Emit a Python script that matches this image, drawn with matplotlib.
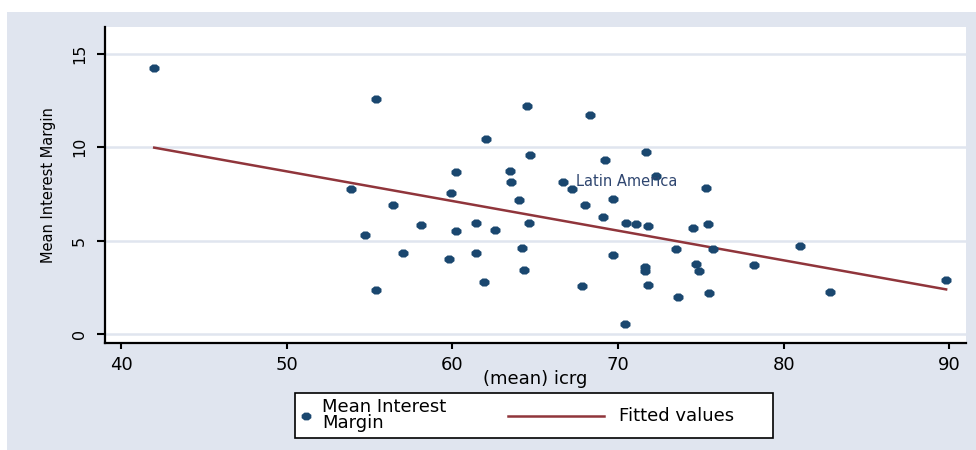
import numpy as np
import matplotlib
matplotlib.use('Agg')
import matplotlib.pyplot as plt
from matplotlib.patches import Rectangle
from matplotlib.lines import Line2D

# values
icrg = [42.0, 55.4, 64.5, 68.3, 62.0, 64.7, 71.7, 69.2, 60.2, 63.5,
        63.55, 66.7, 67.2, 72.3, 75.3, 53.9, 59.9, 64.0, 69.7, 56.4,
        68.0, 69.1, 58.1, 61.4, 64.6, 70.5, 71.1, 71.8, 74.5, 75.4,
        54.7, 60.2, 62.6, 57.0, 59.8, 61.4, 64.2, 69.7, 73.5, 75.7,
        81.0, 64.35, 71.6, 71.6, 74.7, 74.9, 78.2, 61.9, 55.4, 67.8,
        71.8, 73.6, 75.5, 82.8, 89.8, 70.4]
margin = [14.26, 12.59, 12.21, 11.75, 10.43, 9.60, 9.77, 9.32, 8.69, 8.75,
          8.12, 8.16, 7.78, 8.46, 7.80, 7.77, 7.53, 7.18, 7.23, 6.92,
          6.91, 6.25, 5.84, 5.94, 5.96, 5.96, 5.89, 5.80, 5.69, 5.89,
          5.32, 5.53, 5.57, 4.36, 4.02, 4.36, 4.60, 4.21, 4.54, 4.54,
          4.70, 3.43, 3.60, 3.35, 3.73, 3.39, 3.70, 2.80, 2.36, 2.59,
          2.62, 2.00, 2.18, 2.23, 2.89, 0.52]

fit_x = [42.0, 89.8]
fit_y = [9.98, 2.39]

label_text = 'Latin America'
label_x = 66.7
label_y = 8.16

x_ticks = [40, 50, 60, 70, 80, 90]
y_ticks = [0, 5, 10, 15]

navy = '#1a476f'
maroon = '#90353b'
bg = '#e0e5ef'

W, H = 976, 450
fig = plt.figure(figsize=(W / 100, H / 100), dpi=100)

def fx(px):
    return px / W

def fy(py):
    return 1 - py / H

# slightly wide octagon, like the stretched stata dots
t = np.linspace(0, 2 * np.pi, 9)[:-1] + np.pi / 8
dot = list(zip(1.25 * np.cos(t), np.sin(t)))

# stata style outer region
fig.patches.append(Rectangle((fx(7), 0), 1, fy(12), transform=fig.transFigure,
                             facecolor=bg, edgecolor='none', zorder=-10))

ax = fig.add_axes([fx(105), fy(343), fx(966) - fx(105), fy(27) - fy(343)])
ax.set_facecolor('white')

ax.scatter(icrg, margin, s=52, marker=dot, color=navy, zorder=3, linewidths=0)
ax.plot(fit_x, fit_y, color=maroon, lw=1.8, zorder=2)
ax.annotate(label_text, xy=(label_x, label_y), xytext=(9, 0), textcoords='offset points',
            va='center', ha='left', fontsize=10.5, color='#2f4670', zorder=4)

ax.set_xlim(39.03, 91.0)
ax.set_ylim(-0.48, 16.44)
ax.set_xticks(x_ticks)
ax.set_yticks(y_ticks)
ax.yaxis.grid(True, color=bg, lw=1.8)
ax.set_axisbelow(True)

for s in ['top', 'right']:
    ax.spines[s].set_visible(False)
for s in ['left', 'bottom']:
    ax.spines[s].set_linewidth(1.6)
    ax.spines[s].set_color('black')

ax.tick_params(axis='x', direction='out', length=4.5, width=1.5, pad=5, labelsize=13)
ax.tick_params(axis='y', direction='out', length=6, width=1.5, pad=7, labelsize=11.5)
plt.setp(ax.get_yticklabels(), rotation=90, va='center')

ax.set_xlabel('(mean) icrg', fontsize=13)
ax.xaxis.set_label_coords(0.5, -0.085)
ax.set_ylabel('Mean Interest Margin', fontsize=10.5)
ax.yaxis.set_label_coords(-0.057, 0.5)

# legend box drawn by hand to get stata layout
fig.patches.append(Rectangle((fx(295), fy(438)), fx(773) - fx(295), fy(393) - fy(438),
                             transform=fig.transFigure, facecolor='white',
                             edgecolor='black', lw=1.2))
fig.lines.append(Line2D([fx(306)], [fy(416)], marker=dot, ms=7, color=navy,
                        mec='none', transform=fig.transFigure))
fig.text(fx(322), fy(415), 'Mean Interest\nMargin', fontsize=13, va='center',
         ha='left', linespacing=0.8)
fig.lines.append(Line2D([fx(508), fx(604)], [fy(416), fy(416)], color=maroon, lw=1.8,
                        transform=fig.transFigure))
fig.text(fx(619), fy(416), 'Fitted values', fontsize=13, va='center', ha='left')

fig.savefig('out.png', dpi=100)
